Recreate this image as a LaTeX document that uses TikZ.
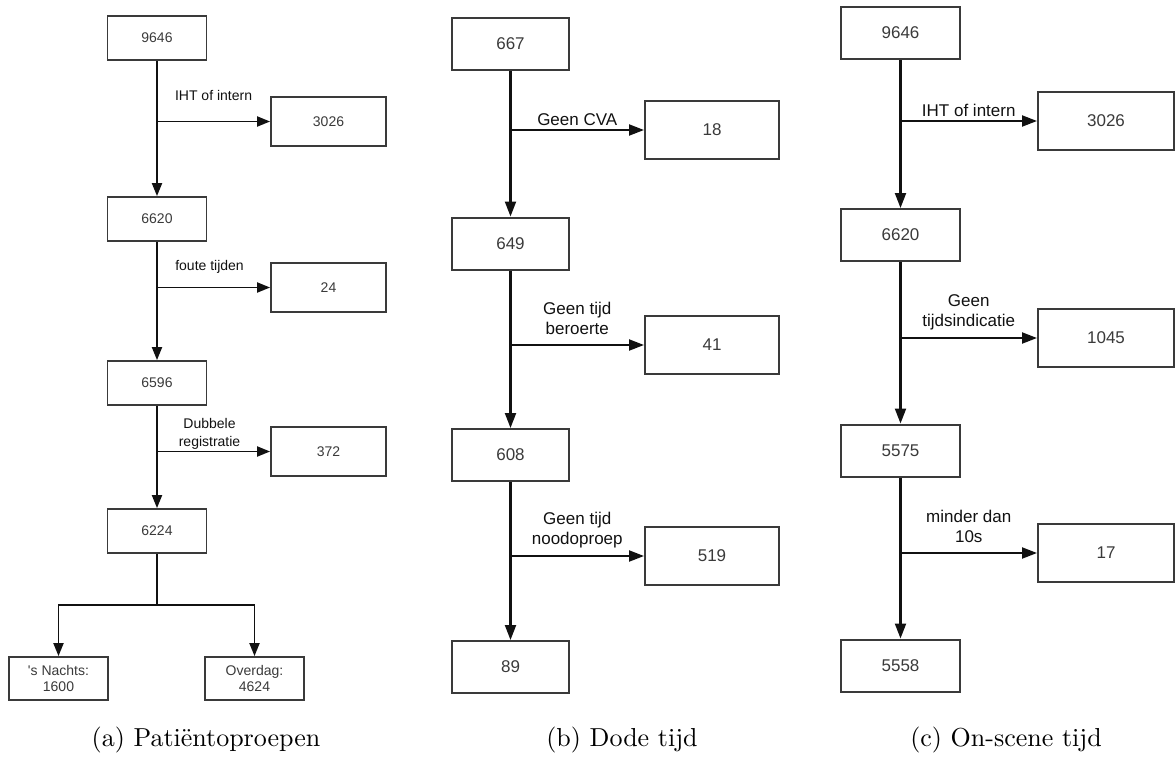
\documentclass[tikz,border=0pt]{standalone}
\usepackage{fontspec}
\usepackage{tikz}
\usetikzlibrary{arrows.meta}
\newfontfamily\flowfont{Liberation Sans}
\newfontfamily\capfont[Extension=.otf]{lmroman10-regular}
\definecolor{ink}{HTML}{111111}
\definecolor{edge}{HTML}{3A3A3A}
\tikzset{
  boxa/.style={draw=edge, line width=1.8pt, minimum width=99pt, minimum height=44pt, inner sep=0pt,
    align=center, text=edge, font=\flowfont\fontsize{14}{17}\selectfont},
  sidea/.style={boxa, minimum width=115pt, minimum height=49pt},
  boxb/.style={draw=edge, line width=2pt, minimum width=117pt, minimum height=52pt, inner sep=0pt,
    align=center, text=edge, font=\flowfont\fontsize{17}{20}\selectfont},
  sideb/.style={boxb, minimum width=134pt, minimum height=58pt},
  linea/.style={draw=ink, line width=1.9pt},
  arra/.style={linea, -{Triangle[length=13pt,width=10pt]}},
  lineb/.style={draw=ink, line width=2.1pt},
  arrb/.style={lineb, -{Triangle[length=15pt,width=11pt]}},
  lbla/.style={text=ink, align=center, font=\flowfont\fontsize{14}{18}\selectfont},
  lblb/.style={text=ink, align=center, font=\flowfont\fontsize{17}{20}\selectfont},
  capt/.style={text=black, font=\capfont\fontsize{26}{30}\selectfont}
}

\begin{document}
\begin{tikzpicture}[x=1pt,y=-1pt]
  \useasboundingbox (0,0) rectangle (1175,761);

  % (a) patient calls
  \node[boxa] (a9646) at (157,38) {9646};
  \node[sidea] (a3026) at (328.5,121.5) {3026};
  \node[boxa] (a6620) at (157,219) {6620};
  \node[sidea] (a24) at (328.5,287.5) {24};
  \node[boxa] (a6596) at (157,383) {6596};
  \node[sidea] (a372) at (328.5,451.5) {372};
  \node[boxa] (a6224) at (157,531) {6224};
  \node[boxa, minimum height=43pt, font=\flowfont\fontsize{14}{16}\selectfont] (anacht) at (58.5,678.5) {'s Nachts:\\1600};
  \node[boxa, minimum height=43pt, font=\flowfont\fontsize{14}{16}\selectfont] (adag) at (254.5,678.5) {Overdag:\\4624};

  \coordinate (a1) at (a9646 |- a3026);
  \coordinate (a2) at (a6620 |- a24);
  \coordinate (a3) at (a6596 |- a372);
  \coordinate (asplit) at (157,605);

  \draw[arra] (a9646) -- (a6620);
  \draw[arra] (a6620) -- (a6596);
  \draw[arra] (a6596) -- (a6224);
  \draw[arra] (a1) -- node[lbla, yshift=26pt] {IHT of intern} (a3026);
  \draw[arra] (a2) -- node[lbla, xshift=-4pt, yshift=21pt] {foute tijden} (a24);
  \draw[arra] (a3) -- node[lbla, xshift=-4pt, yshift=18pt] {Dubbele\\registratie} (a372);
  \draw[linea] (a6224) -- (asplit);
  \draw[arra] (asplit) -| (anacht);
  \draw[arra] (asplit) -| (adag);

  \node[capt] (capa) at (206,740) {(a) Patiëntoproepen};

  % (b) dead time
  \node[boxb] (b667) at (510.5,44) {667};
  \node[sideb] (b18) at (712,130) {18};
  \node[boxb] (b649) at (510.5,243.5) {649};
  \node[sideb] (b41) at (712,345) {41};
  \node[boxb] (b608) at (510.5,455) {608};
  \node[sideb] (b519) at (712,556) {519};
  \node[boxb] (b89) at (510.5,667) {89};

  \coordinate (b1) at (b667 |- b18);
  \coordinate (b2) at (b649 |- b41);
  \coordinate (b3) at (b608 |- b519);

  \draw[arrb] (b667) -- (b649);
  \draw[arrb] (b649) -- (b608);
  \draw[arrb] (b608) -- (b89);
  \draw[arrb] (b1) -- node[lblb, yshift=10pt] {Geen CVA} (b18);
  \draw[arrb] (b2) -- node[lblb, yshift=27pt] {Geen tijd\\beroerte} (b41);
  \draw[arrb] (b3) -- node[lblb, yshift=26pt] {Geen tijd\\noodoproep} (b519);

  \node[capt] (capb) at (622,740) {(b) Dode tijd};

  % (c) on-scene time
  \node[boxb, minimum width=119pt] (c9646) at (900.5,33) {9646};
  \node[sideb, minimum width=136pt] (c3026) at (1106,121) {3026};
  \node[boxb, minimum width=119pt] (c6620) at (900.5,235) {6620};
  \node[sideb, minimum width=136pt] (c1045) at (1106,338) {1045};
  \node[boxb, minimum width=119pt] (c5575) at (900.5,450.5) {5575};
  \node[sideb, minimum width=136pt] (c17) at (1106,553) {17};
  \node[boxb, minimum width=119pt] (c5558) at (900.5,665.5) {5558};

  \coordinate (c1) at (c9646 |- c3026);
  \coordinate (c2) at (c6620 |- c1045);
  \coordinate (c3) at (c5575 |- c17);

  \draw[arrb] (c9646) -- (c6620);
  \draw[arrb] (c6620) -- (c5575);
  \draw[arrb] (c5575) -- (c5558);
  \draw[arrb] (c1) -- node[lblb, yshift=11pt] {IHT of intern} (c3026);
  \draw[arrb] (c2) -- node[lblb, yshift=26pt] {Geen\\tijdsindicatie} (c1045);
  \draw[arrb] (c3) -- node[lblb, yshift=27pt] {minder dan\\10s} (c17);

  \node[capt] (capc) at (1006,740) {(c) On-scene tijd};
\end{tikzpicture}
\end{document}
